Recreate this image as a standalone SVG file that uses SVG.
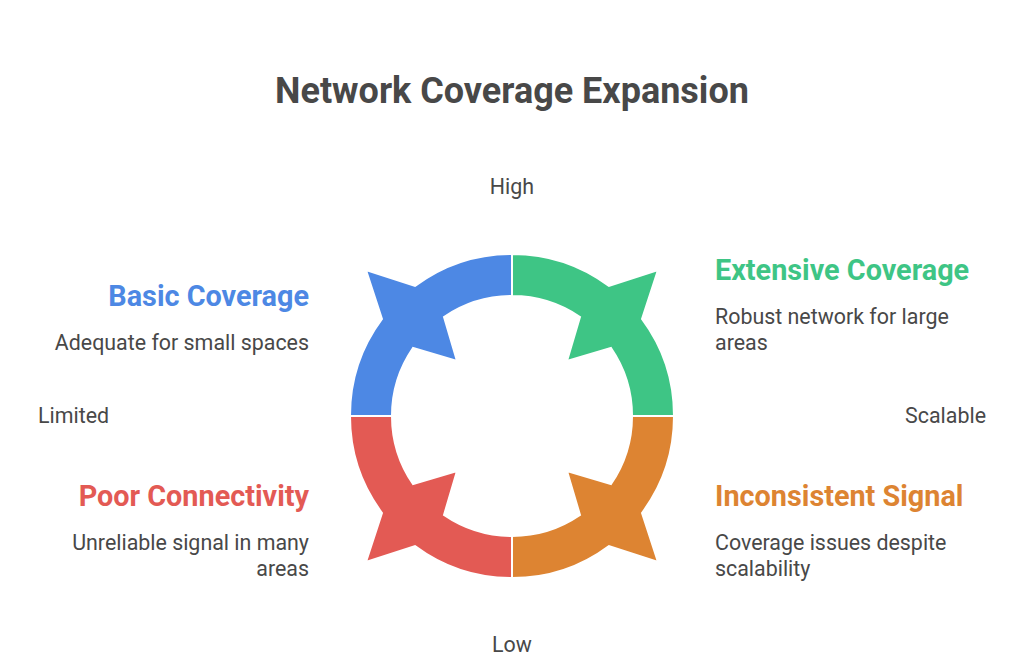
<svg xmlns="http://www.w3.org/2000/svg" width="1024" height="667" viewBox="0 0 1024 667">
<style>
.t{font-family:Roboto,"Liberation Sans",sans-serif;fill:#484848}
.title{font-size:36px;font-weight:bold}
.lab{font-size:28.8px;font-weight:bold}
.d{font-size:21.4px}
.seg{stroke:#fff;stroke-width:2;stroke-linejoin:miter}
</style>
<rect width="1024" height="667" fill="#fff"/>
<text class="t title" x="512" y="103" text-anchor="middle">Network Coverage Expansion</text>
<g id="axes">
<text class="t d" x="512" y="194" text-anchor="middle">High</text>
<text class="t d" x="512" y="652" text-anchor="middle">Low</text>
<text class="t d" x="38" y="423">Limited</text>
<text class="t d" x="986" y="423" text-anchor="end">Scalable</text>
</g>
<g id="connectors">
<path id="arc-basic" class="seg" fill="#4d88e4" d="M 512 254 A 162 162 0 0 0 415 286 L 366 270 L 382 319 A 162 162 0 0 0 350 416 L 392 416 A 120 120 0 0 1 413 348 L 457 361 L 444 317 A 120 120 0 0 1 512 296 Z"/>
<path id="arc-extensive" class="seg" fill="#3ec585" d="M 512 254 A 162 162 0 0 1 609 286 L 658 270 L 642 319 A 162 162 0 0 1 674 416 L 632 416 A 120 120 0 0 0 611 348 L 567 361 L 580 317 A 120 120 0 0 0 512 296 Z"/>
<path id="arc-poor" class="seg" fill="#e35a54" d="M 512 578 A 162 162 0 0 1 415 546 L 366 562 L 382 513 A 162 162 0 0 1 350 416 L 392 416 A 120 120 0 0 0 413 484 L 457 471 L 444 515 A 120 120 0 0 0 512 536 Z"/>
<path id="arc-inconsistent" class="seg" fill="#dd8432" d="M 512 578 A 162 162 0 0 0 609 546 L 658 562 L 642 513 A 162 162 0 0 0 674 416 L 632 416 A 120 120 0 0 1 611 484 L 567 471 L 580 515 A 120 120 0 0 1 512 536 Z"/>
</g>
<g id="node-basic">
<text class="t lab" x="309" y="305.5" text-anchor="end" style="fill:#4d88e4">Basic Coverage</text>
<text class="t d" x="309" y="350" text-anchor="end">Adequate for small spaces</text>
</g>
<g id="node-extensive">
<text class="t lab" x="715" y="279.5" style="fill:#3ec585">Extensive Coverage</text>
<text class="t d" x="715" y="324">Robust network for large</text>
<text class="t d" x="715" y="350">areas</text>
</g>
<g id="node-poor">
<text class="t lab" x="309" y="505.5" text-anchor="end" style="fill:#e35a54">Poor Connectivity</text>
<text class="t d" x="309" y="550" text-anchor="end">Unreliable signal in many</text>
<text class="t d" x="309" y="576" text-anchor="end">areas</text>
</g>
<g id="node-inconsistent">
<text class="t lab" x="715" y="505.5" style="fill:#dd8432">Inconsistent Signal</text>
<text class="t d" x="715" y="550">Coverage issues despite</text>
<text class="t d" x="715" y="576">scalability</text>
</g>
</svg>
